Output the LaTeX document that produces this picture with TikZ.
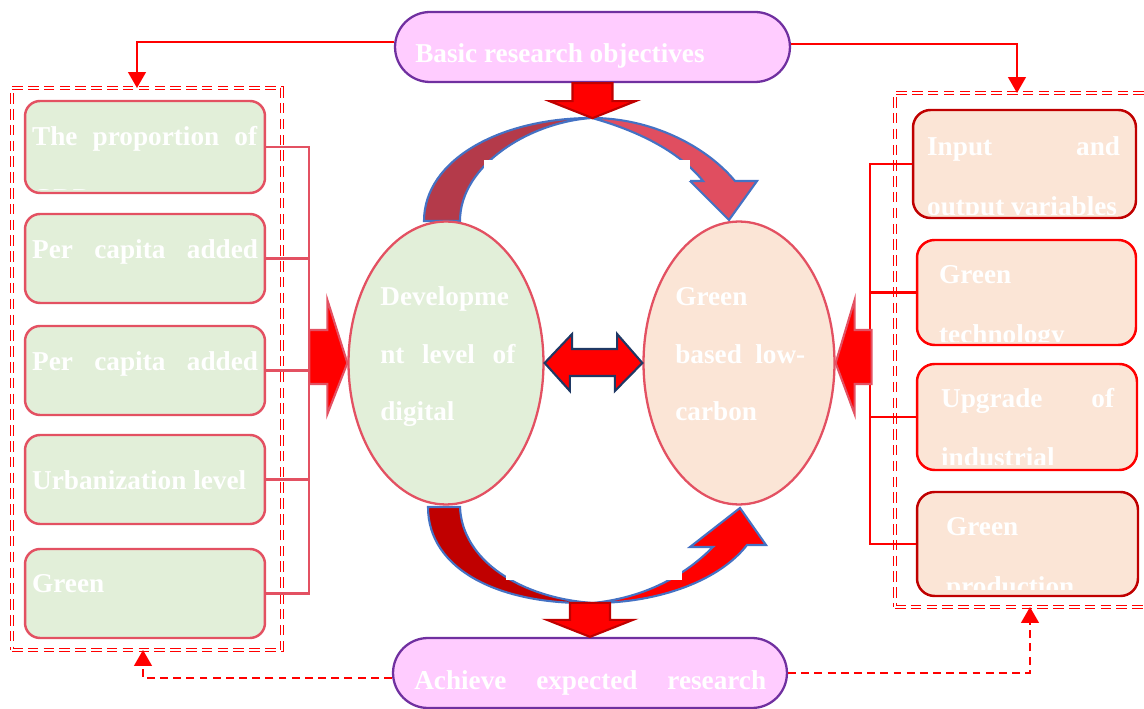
\documentclass[tikz,border=0pt]{standalone}
\usepackage{fontspec}
\setmainfont{Liberation Serif}
\usepackage{tikz}
\definecolor{leafgreen}{HTML}{E2EFD9}
\definecolor{peach}{HTML}{FBE5D6}
\definecolor{pillpink}{HTML}{FFCCFF}
\definecolor{pillpurple}{HTML}{7030A0}
\definecolor{rosered}{HTML}{E35162}
\definecolor{darkred}{HTML}{C00000}
\definecolor{arcblue}{HTML}{4472C4}
\definecolor{arcwine}{HTML}{B43A4A}
\definecolor{arcrose}{HTML}{E04E60}
\definecolor{navy}{HTML}{1F3864}
\usetikzlibrary{positioning, arrows.meta, shapes.geometric, calc}
\tikzstyle{arrow} = [red, line width=1.2pt, -{Triangle[length=9pt,width=10pt]}]

\begin{document}
\begin{tikzpicture}[x=0.02cm, y=-0.02cm]
                    \tikzstyle{every node}=[font=\fontsize{15.5pt}{33pt}\selectfont\bfseries]
                    \tikzstyle{pill} = [rectangle, rounded corners=0.7cm, draw=pillpurple, line width=1.3pt, fill=pillpink, minimum width=7.9cm, minimum height=1.4cm]
                    \tikzstyle{leftbox} = [rectangle, rounded corners=0.3cm, draw=rosered, line width=1.4pt, fill=leafgreen, minimum width=4.8cm, minimum height=1.78cm]
                    \tikzstyle{rightbox} = [rectangle, rounded corners=0.35cm, draw=darkred, line width=1.4pt, fill=peach, minimum width=4.4cm, minimum height=2.1cm]
                    \tikzstyle{oval} = [ellipse, draw=rosered, line width=1.3pt, minimum height=5.66cm]
                    \tikzstyle{groupbox} = [rectangle, draw=red, line width=0.5pt, double=white, double distance=1.2pt, dash pattern=on 6pt off 3pt]
                    \tikzstyle{txt} = [text=white, anchor=base west, inner sep=0pt]
                    \tikzstyle{lconn} = [draw=rosered, line width=1.4pt]
                    \tikzstyle{rconn} = [draw=red, line width=1.4pt]
                    \tikzstyle{dasharrow} = [arrow, dash pattern=on 4.5pt off 3pt]
                    \tikzstyle{block} = [fill=red, line width=1.2pt, line join=miter]
                    \tikzstyle{arc} = [draw=arcblue, line width=1.2pt, line join=miter]

                    \useasboundingbox (0,0) rectangle (1144,709);

                    % dashed groups
                    \node[groupbox, minimum width=5.4cm, minimum height=11.24cm](lgroup) at (147,369) {};
                    \node[groupbox, minimum width=5.1cm, minimum height=10.28cm](rgroup) at (1022.5,350) {};

                    % objectives and result
                    \node[pill](goal) at (592.5,47) {};
                    \node[txt](goal-t) at ([shift={(21,16)}]goal.west) {Basic research objectives};
                    \node[pill, minimum width=7.88cm](result) at (590,673) {};
                    \node[txt](result-t) at ([shift={(22,17)}]result.west) {\makebox[7.04cm][s]{Achieve expected research}};

                    % left indicators
                    \node[leftbox, minimum height=1.84cm](b1) at (145,147) {};
                    \node[leftbox](b2) at (145,258.5) {};
                    \node[leftbox](b3) at (145,370.5) {};
                    \node[leftbox](b4) at (145,479.5) {};
                    \node[leftbox](b5) at (145,593.5) {};
                    \node[txt](b1-t) at ([shift={(8,46)}]b1.north west) {\makebox[4.5cm][s]{The proportion of}};
                    \begin{scope}
                        \clip ([shift={(3,0)}]b1.north west) rectangle ([shift={(-3,-5)}]b1.south east);
                        \node[txt](b1-u) at ([shift={(0,62)}]b1-t.base west) {GDP};
                    \end{scope}
                    \node[txt](b2-t) at ([shift={(8,46)}]b2.north west) {\makebox[4.52cm][s]{Per capita added}};
                    \node[txt](b3-t) at ([shift={(8,46)}]b3.north west) {\makebox[4.52cm][s]{Per capita added}};
                    \node[txt](b4-t) at ([shift={(8,56)}]b4.north west) {Urbanization level};
                    \node[txt](b5-t) at ([shift={(8,45)}]b5.north west) {Green};

                    % right indicators
                    \node[rightbox, minimum width=4.46cm, minimum height=2.16cm](r1) at (1024.5,164) {};
                    \node[rightbox, draw=red, minimum width=4.38cm](r2) at (1026.5,292.5) {};
                    \node[rightbox, draw=red, minimum height=2.12cm](r3) at (1027,417) {};
                    \node[rightbox, minimum width=4.42cm, minimum height=2.08cm](r4) at (1027.5,544) {};
                    \node[txt](r1-t) at ([shift={(15,47)}]r1.north west) {\makebox[3.86cm][s]{Input and}};
                    \node[txt](r2-t) at ([shift={(23,45)}]r2.north west) {Green};
                    \node[txt](r3-t) at ([shift={(25,45)}]r3.north west) {\makebox[3.46cm][s]{Upgrade of}};
                    \node[txt](r4-t) at ([shift={(30,45)}]r4.north west) {Green};
                    \begin{scope}
                        \clip ([shift={(3,0)}]r1.north west) rectangle ([shift={(-3,-5)}]r1.south east);
                        \node[txt](r1-u) at ([shift={(0,60)}]r1-t.base west) {output variables};
                    \end{scope}
                    \begin{scope}
                        \clip ([shift={(3,0)}]r2.north west) rectangle ([shift={(-3,-5)}]r2.south east);
                        \node[txt](r2-u) at ([shift={(0,60)}]r2-t.base west) {technology};
                    \end{scope}
                    \begin{scope}
                        \clip ([shift={(3,0)}]r3.north west) rectangle ([shift={(-3,-7)}]r3.south east);
                        \node[txt](r3-u) at ([shift={(0,59)}]r3-t.base west) {industrial};
                    \end{scope}
                    \begin{scope}
                        \clip ([shift={(3,0)}]r4.north west) rectangle ([shift={(-3,-8)}]r4.south east);
                        \node[txt](r4-u) at ([shift={(0,60)}]r4-t.base west) {production};
                    \end{scope}

                    % connectors to the side groups
                    \coordinate (lbus) at (309,0);
                    \coordinate (rbus) at (870,0);
                    \draw[lconn] (b1.east) -- (b1.east -| lbus) -- (b5.east -| lbus) -- (b5.east);
                    \draw[lconn] (b2.east) -- (b2.east -| lbus);
                    \draw[lconn] (b3.east) -- (b3.east -| lbus);
                    \draw[lconn] (b4.east) -- (b4.east -| lbus);
                    \draw[rconn] (r1.west) -- (r1.west -| rbus) -- (r4.west -| rbus) -- (r4.west);
                    \draw[rconn] (r2.west) -- (r2.west -| rbus);
                    \draw[rconn] (r3.west) -- (r3.west -| rbus);

                    % curved arrows
                    \draw[arc, fill=arcwine] (424,221) .. controls (424,160) and (500,118) .. (592,118) .. controls (530,122) and (460,165) .. (460,221) -- cycle;
                    \draw[arc, fill=arcrose] (592,118) .. controls (650,118) and (705,145) .. (735,181) -- (757,181) -- (729,220) -- (690,181) -- (703,181) .. controls (678,150) and (635,130) .. (592,118) -- cycle;
                    \draw[arc, fill=darkred] (428,507) -- (460,507) .. controls (462,560) and (520,598) .. (593,603) .. controls (500,605) and (428,570) .. (428,507) -- cycle;
                    \draw[arc, fill=red] (593,603) .. controls (660,603) and (720,580) .. (747,545) -- (766,545) -- (740,508) -- (690,547) -- (713,547) .. controls (680,580) and (640,598) .. (593,603) -- cycle;
                    \fill[white] (484,160) rectangle (524,200);
                    \fill[white] (650,160) rectangle (690,181);
                    \fill[white] (506,540) rectangle (546,580);
                    \fill[white] (642,540) rectangle (682,580);

                    % the two ovals
                    \node[oval, fill=leafgreen, minimum width=3.9cm](digital) at (446,363) {};
                    \node[oval, fill=peach, minimum width=3.82cm](lowcarbon) at (739,363) {};
                    \node[txt, align=left](digital-t) at (380,421) {Developme\\\makebox[2.7cm][s]{nt level of}\\digital};
                    \node[txt, align=left](lowcarbon-t) at (675,421) {Green\\\makebox[2.6cm][s]{based low-}\\carbon};

                    % block arrows
                    \draw[block, draw=navy] (digital.east) -- ++(27.5,-29) -- ++(0,15) -- ++(45,0) -- ++(0,-15) -- (lowcarbon.west) -- ++(-27.5,28) -- ++(0,-15) -- ++(-45,0) -- ++(0,15) -- cycle;
                    \draw[block, draw=rosered] (digital.west) -- ++(-20,-63) -- ++(0,30) -- ++(-18,0) -- ++(0,54) -- ++(18,0) -- ++(0,30) -- cycle;
                    \draw[block, draw=rosered] (lowcarbon.east) -- ++(19,-63) -- ++(0,30) -- ++(17,0) -- ++(0,54) -- ++(-17,0) -- ++(0,30) -- cycle;
                    \draw[block, draw=darkred] ($(goal.south)+(-20,0)$) -- ++(0,18) -- ++(-23,0) -- ++(43,17) -- ++(43,-17) -- ++(-23,0) -- ++(0,-18) -- cycle;
                    \draw[block, draw=darkred] (result.north) -- ++(-43,-17) -- ++(23,0) -- ++(0,-17) -- ++(40,0) -- ++(0,17) -- ++(23,0) -- cycle;

                    % arrows to the groups
                    \coordinate (ltop) at (137,88);
                    \coordinate (rtop) at (1017,93);
                    \coordinate (lbot) at (143,650);
                    \coordinate (rbot) at (1030,607);
                    \draw[arrow] ([shift={(0,-5)}]goal.west) -| (ltop);
                    \draw[arrow] ([shift={(0,-3)}]goal.east) -| (rtop);
                    \draw[dasharrow] ([shift={(0,5)}]result.west) -| (lbot);
                    \draw[dasharrow] (result.east) -| (rbot);
\end{tikzpicture}
\end{document}
